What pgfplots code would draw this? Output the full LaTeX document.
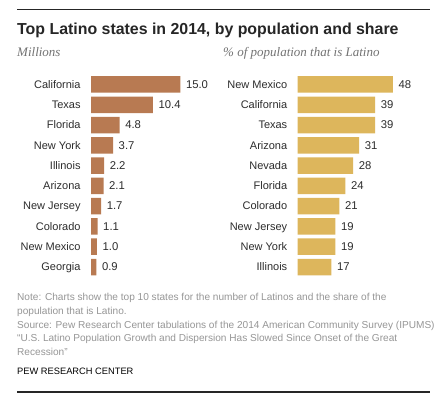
\documentclass[border=0pt]{standalone}
\usepackage{fontspec}
\setmainfont{Liberation Sans}
\newfontfamily\serifit{Liberation Serif}
\usepackage{pgfplots}
\pgfplotsset{compat=1.18}
\definecolor{leftbar}{RGB}{184,122,82}
\definecolor{rightbar}{RGB}{221,182,92}
\definecolor{lab}{RGB}{45,45,45}
\definecolor{foot}{RGB}{150,150,150}
\definecolor{sub}{RGB}{115,115,115}
\definecolor{rule}{RGB}{38,38,38}
\pgfplotsset{
  pewbars/.style={
    xbar, scale only axis, y dir=reverse,
    ymin=-0.5, ymax=9.5, height=202.8pt,
    bar width=16.5pt, enlargelimits=false, clip=false,
    axis line style={draw=none}, major tick style={draw=none},
    xtick=\empty, ytick={0,...,9},
    yticklabel style={font=\fontsize{11}{13}\selectfont, text=lab, inner sep=0pt, xshift=-6pt, text height=8pt, text depth=0.5pt},
    point meta=x,
    nodes near coords,
    nodes near coords style={anchor=west, inner sep=0pt, xshift=5.5pt, font=\fontsize{11.3}{13}\selectfont, text=lab, text height=8pt, text depth=0.5pt},
    /pgf/number format/assume math mode=true,
  }
}
\begin{document}
\begin{tikzpicture}[x=1pt,y=1pt]
\fill[white] (0,0) rectangle (441,404);
\useasboundingbox (0,0) rectangle (441,404);
\node[anchor=south west, inner sep=0pt, outer sep=0pt, fill=rule, minimum width=413pt, minimum height=1.4pt] at (17,393.6) {};
\node[anchor=base west, inner sep=0pt, font=\bfseries\fontsize{15.9}{18}\selectfont, text=black!85] at (17,369.5) {Top Latino states in 2014, by population and share};
\node[anchor=base west, inner sep=0pt, font=\serifit\itshape\fontsize{13}{15}\selectfont, text=sub] at (17,347) {Millions};
\node[anchor=base west, inner sep=0pt, font=\serifit\itshape\fontsize{13}{15}\selectfont, text=sub] at (223,347) {\% of population that is Latino};

\begin{axis}[pewbars, at={(91pt,329.64pt)}, anchor=north west,
  xmin=0, xmax=15, width=89.3pt,
  yticklabels={California,Texas,Florida,New York,Illinois,Arizona,New Jersey,Colorado,New Mexico,Georgia},
  /pgf/number format/.cd, fixed, fixed zerofill, precision=1]
\addplot[fill=leftbar, draw=none] coordinates {(15.0,0) (10.4,1) (4.8,2) (3.7,3) (2.2,4) (2.1,5) (1.7,6) (1.1,7) (1.0,8) (0.9,9)};
\end{axis}

\begin{axis}[pewbars, at={(297.7pt,329.64pt)}, anchor=north west,
  xmin=0, xmax=48, width=95.2pt,
  yticklabels={New Mexico,California,Texas,Arizona,Nevada,Florida,Colorado,New Jersey,New York,Illinois},
  /pgf/number format/.cd, fixed, precision=0]
\addplot[fill=rightbar, draw=none] coordinates {(48,0) (39,1) (39,2) (31,3) (28,4) (24,5) (21,6) (19,7) (19,8) (17,9)};
\end{axis}

\begin{scope}[every node/.style={anchor=base west, inner sep=0pt, font=\fontsize{10.1}{12}\selectfont, text=foot}]
\node at (17,103) {Note: Charts show the top 10 states for the number of Latinos and the share of the};
\node at (17,89.5) {population that is Latino.};
\node at (17,76) {Source: Pew Research Center tabulations of the 2014 American Community Survey (IPUMS)};
\node at (17,62.5) {``U.S. Latino Population Growth and Dispersion Has Slowed Since Onset of the Great};
\node at (17,49) {Recession''};
\end{scope}
\node[anchor=base west, inner sep=0pt, font=\fontsize{9.3}{11}\selectfont, text=black] at (17,29.3) {PEW RESEARCH CENTER};
\fill[rule] (17,11.4) rectangle (430,12.6);
\end{tikzpicture}
\end{document}
